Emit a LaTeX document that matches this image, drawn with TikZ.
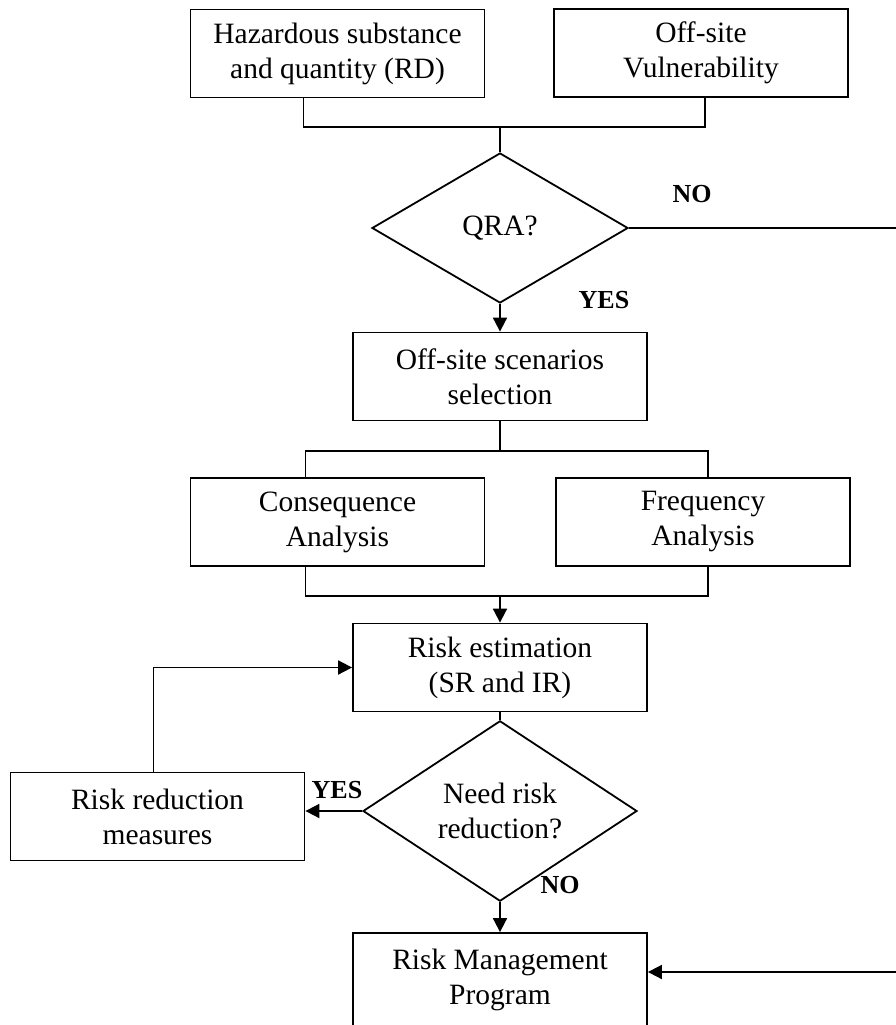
\documentclass[tikz,border=0pt]{standalone}
\usepackage{fontspec}
\setmainfont{Liberation Serif}
\usetikzlibrary{shapes.geometric}
\usetikzlibrary{arrows.meta}
\tikzset{stage/.style={rectangle,draw=black,line width=1.8pt,minimum width=294pt,minimum height=88pt,inner sep=0pt,align=center,font=\fontsize{29.5}{35}\selectfont}}
\tikzset{query/.style={diamond,draw=black,line width=1.8pt,inner sep=0pt,align=center,font=\fontsize{29.5}{35}\selectfont}}
\tikzset{flow/.style={draw=black,line width=1.8pt}}
\tikzset{flowarrow/.style={flow,-{Triangle[length=14pt,width=14pt]}}}
\tikzset{answer/.style={font=\fontsize{26}{30}\selectfont\bfseries}}

\begin{document}
\begin{tikzpicture}[x=1pt,y=-1pt]
  \useasboundingbox (0,0) rectangle (895,1025);
  % boxes
  \node [stage] (haz) at (337.5,53.5) {Hazardous substance\\and quantity (RD)};
  \node [stage] (vul) at (701,53) {Off-site\\Vulnerability};
  \node [query,minimum width=256pt,minimum height=150pt] (qra) at (500,228) {QRA?};
  \node [stage] (scen) at (500,376.5) {Off-site scenarios\\selection};
  \node [stage] (cons) at (337.5,522) {Consequence\\Analysis};
  \node [stage] (freq) at (703,522) {Frequency\\Analysis};
  \node [stage] (est) at (500,667.5) {Risk estimation\\(SR and IR)};
  \node [query,minimum width=274pt,minimum height=166pt] (need) at (500,811) {Need risk\\reduction?};
  \node [stage] (red) at (157.5,816.5) {Risk reduction\\measures};
  \node [stage,minimum height=93pt] (rmp) at (500,979.5) {Risk Management\\Program};
  % answers
  \node [answer] (noA) at (692,194) {NO};
  \node [answer] (yesA) at (604,300) {YES};
  \node [answer] (yesB) at (337,790) {YES};
  \node [answer] (noB) at (560,885) {NO};
  % junctions
  \coordinate (j1) at (500,127);
  \coordinate (j2) at (500,451);
  \coordinate (j3) at (500,596);
  \coordinate (rim) at (906,228);
  % connectors
  \draw [flow] ([xshift=-34pt]haz.south) |- (j1) -| ([xshift=4pt]vul.south);
  \draw [flow] (j1) -- (qra.north);
  \draw [flowarrow] (qra.south) -- (scen.north);
  \draw [flow] (scen.south) -- (j2);
  \draw [flow] ([xshift=-32pt]cons.north) |- (j2) -| ([xshift=5pt]freq.north);
  \draw [flow] ([xshift=-32pt]cons.south) |- (j3) -| ([xshift=5pt]freq.south);
  \draw [flowarrow] (j3) -- (est.north);
  \draw [flow] (est.south) -- (need.north);
  \draw [flowarrow] (need.west) -- (need.west -| red.east);
  \draw [flowarrow] ([xshift=-4pt]red.north) |- (est.west);
  \draw [flowarrow] (need.south) -- (rmp.north);
  \draw [flowarrow] (qra.east) -- (rim) |- ([yshift=7.5pt]rmp.east);
\end{tikzpicture}
\end{document}
